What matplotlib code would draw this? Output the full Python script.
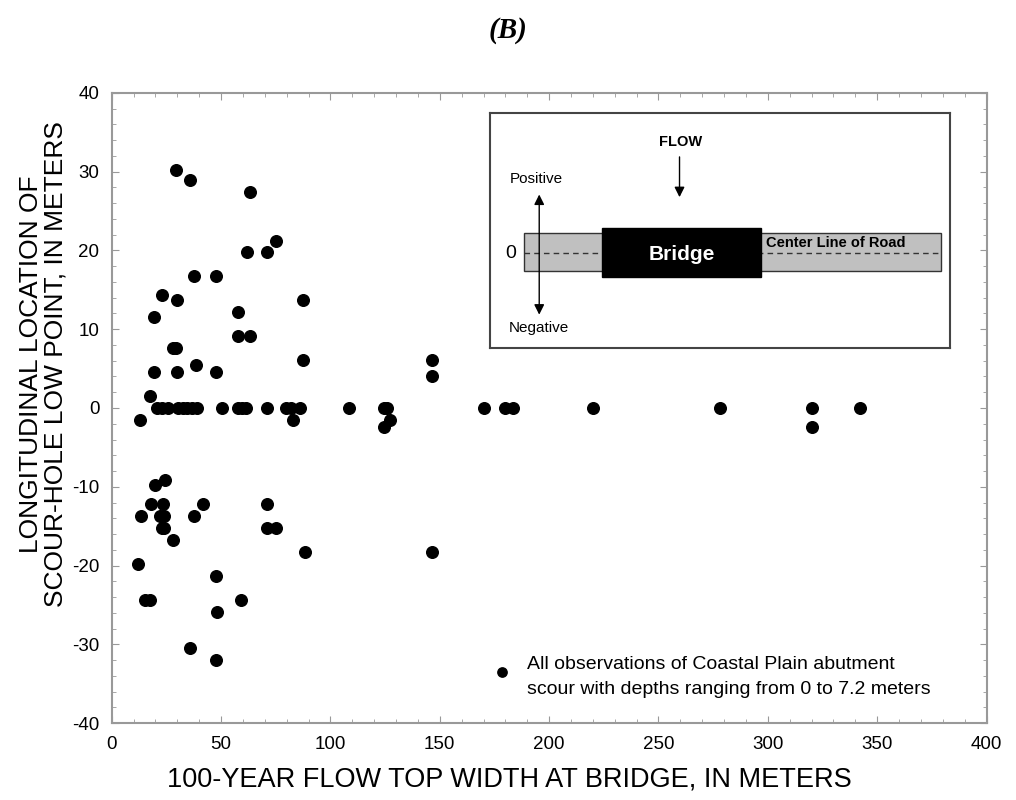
import matplotlib.pyplot as plt
from matplotlib.patches import Rectangle
from matplotlib.ticker import MultipleLocator

# Flow top width (m) and longitudinal location of scour-hole low point (m)
breite = [29.5, 36, 63, 75, 62, 71, 37.5, 47.5,
          23, 30, 87.5, 19.5, 57.5, 57.5, 63,
          28, 29.3, 19.5, 30, 38.5, 47.5, 87.5, 17.5,
          13, 83,
          20.5, 23, 25.5, 30.5, 32.5, 34.5, 36.5, 39, 50.5, 57.5, 59.5, 61.5, 71, 79.5, 82, 86, 108.5,
          124.5, 126, 127, 124.5, 146.5, 146.5, 146.5, 170, 180, 183.5, 220, 278, 320, 320, 342,
          24.5, 20, 18, 23.5, 41.5, 71, 13.5, 22, 24, 37.7,
          22.8, 24, 71, 75, 28, 88.5, 12, 47.5, 15, 17.7, 59, 48, 35.8, 47.5]
lage = [30.2, 28.9, 27.4, 21.2, 19.8, 19.8, 16.7, 16.7,
        14.3, 13.7, 13.7, 11.6, 12.2, 9.1, 9.1,
        7.6, 7.6, 4.6, 4.6, 5.5, 4.6, 6.1, 1.5,
        -1.5, -1.5,
        0, 0, 0, 0, 0, 0, 0, 0, 0, 0, 0, 0, 0, 0, 0, 0, 0,
        0, 0, -1.5, -2.4, 6.1, 4.0, -18.3, 0, 0, 0, 0, 0, 0, -2.4, 0,
        -9.1, -9.8, -12.2, -12.2, -12.2, -12.2, -13.7, -13.7, -13.7, -13.7,
        -15.2, -15.2, -15.2, -15.2, -16.8, -18.3, -19.8, -21.3, -24.4, -24.4, -24.4, -25.9, -30.5, -32.0]

plt.rcParams['font.family'] = ['Liberation Sans', 'DejaVu Sans']
plt.rcParams['axes.unicode_minus'] = False
grau = '#999999'

fig = plt.figure(figsize=(10.16, 8.0), dpi=100)
ax = fig.add_axes([0.110, 0.096, 0.861, 0.788])

ax.scatter(breite, lage, s=70, color='black', zorder=3)

ax.axis([0, 400, -40, 40])
ax.xaxis.set_major_locator(MultipleLocator(50))
ax.xaxis.set_minor_locator(MultipleLocator(10))
ax.yaxis.set_major_locator(MultipleLocator(10))
ax.yaxis.set_minor_locator(MultipleLocator(2))
ax.tick_params(which='both', direction='in', color=grau, top=True, right=True, labelsize=13.5, pad=9)
ax.tick_params(which='major', length=5)
ax.tick_params(which='minor', length=3)
for sp in ax.spines.values():
    sp.set_color(grau)
    sp.set_linewidth(1.5)

ax.set_xlabel('100-YEAR FLOW TOP WIDTH AT BRIDGE, IN METERS', fontsize=19.5)
ax.xaxis.set_label_coords(0.454, -0.068)
ax.set_ylabel('LONGITUDINAL LOCATION OF\nSCOUR-HOLE LOW POINT, IN METERS', fontsize=19,
              linespacing=1.0)
ax.yaxis.set_label_coords(-0.051, 0.57)

fig.text(0.5, 0.962, '(B)', ha='center', va='center', fontsize=21, fontweight='bold',
         fontstyle='italic', family='Liberation Serif')

# Legende
ax.scatter([0.446], [0.081], s=45, color='black', transform=ax.transAxes, clip_on=False, zorder=3)
ax.text(0.475, 0.106, 'All observations of Coastal Plain abutment\nscour with depths ranging from 0 to 7.2 meters',
        transform=ax.transAxes, fontsize=14, va='top', linespacing=1.6)

# Skizze (Inset)
ins = fig.add_axes([490 / 1016, 1 - 348 / 800, 460 / 1016, 235 / 800])
ins.set_xlim(0, 1)
ins.set_ylim(0, 1)
ins.set_xticks([])
ins.set_yticks([])
for sp in ins.spines.values():
    sp.set_color('#444444')
    sp.set_linewidth(1.5)

ins.add_patch(Rectangle((0.074, 0.328), 0.906, 0.161, facecolor='#c0c0c0', edgecolor='#333333', lw=1))
ins.plot([0.074, 0.98], [0.404, 0.404], ls=(0, (4, 3)), color='#333333', lw=1)
ins.add_patch(Rectangle((0.243, 0.302), 0.347, 0.208, facecolor='black', edgecolor='black', zorder=3))
ins.text(0.416, 0.398, 'Bridge', color='white', fontsize=15, fontweight='bold', ha='center', va='center', zorder=4)
ins.text(0.6, 0.447, 'Center Line of Road', fontsize=10.5, fontweight='bold', ha='left', va='center')
ins.text(0.045, 0.404, '0', fontsize=14, ha='center', va='center')
ins.text(0.415, 0.877, 'FLOW', fontsize=10.5, fontweight='bold', ha='center', va='center')
ins.annotate('', xy=(0.412, 0.63), xytext=(0.412, 0.825),
             arrowprops=dict(arrowstyle='-|>', color='black', lw=1, mutation_scale=15))
ins.annotate('', xy=(0.107, 0.13), xytext=(0.107, 0.665),
             arrowprops=dict(arrowstyle='<|-|>', color='black', lw=1, mutation_scale=15))
ins.text(0.1, 0.72, 'Positive', fontsize=11, ha='center', va='center')
ins.text(0.107, 0.085, 'Negative', fontsize=11, ha='center', va='center')

fig.savefig('out.png', dpi=100)
